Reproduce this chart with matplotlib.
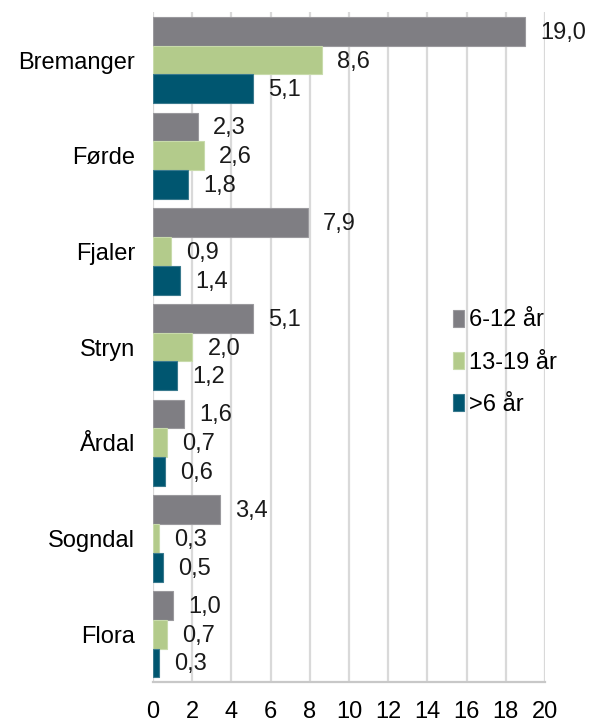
import matplotlib.pyplot as plt
import numpy as np

plt.rcParams['font.family'] = ['Liberation Sans', 'DejaVu Sans']

# Data (top to bottom)
kommuner = ['Bremanger', 'Førde', 'Fjaler', 'Stryn', 'Årdal', 'Sogndal', 'Flora']
serie_navn = ['6-12 år', '13-19 år', '>6 år']
v_6_12 = [19.0, 2.3, 7.9, 5.1, 1.6, 3.4, 1.0]
v_13_19 = [8.6, 2.6, 0.9, 2.0, 0.7, 0.3, 0.7]
v_over6 = [5.1, 1.8, 1.4, 1.2, 0.6, 0.5, 0.3]

farger = ['#7f7e83', '#b3cb8b', '#005670']
kanter = ['#9a999d', '#c8dbab', '#3a7a8e']

fs = 17
fig = plt.figure(figsize=(5.93, 7.22), dpi=100)
ax = fig.add_axes([0.258, 0.0554, 0.661, 0.9276])

n = len(kommuner)
y = np.arange(n)
h = 0.3
verdier = [v_6_12, v_13_19, v_over6]
for i, (vals, navn) in enumerate(zip(verdier, serie_navn)):
    pos = y + (i - 1) * h
    bars = ax.barh(pos, vals, height=h, color=farger[i], edgecolor=kanter[i],
                   linewidth=0.8, label=navn, zorder=3)
    for b, v in zip(bars, vals):
        ax.annotate(f'{v:.1f}'.replace('.', ','),
                    (b.get_width(), b.get_y() + b.get_height() / 2),
                    xytext=(11, -1), textcoords='offset points',
                    ha='left', va='center', fontsize=fs, color='#1a1a1a')

ax.set_ylim(n - 0.5, -0.5)
ax.set_xlim(0, 20)
ax.set_xticks(range(0, 21, 2))
ax.set_yticks(y)
ax.set_yticklabels(kommuner, fontsize=fs)
ax.tick_params(axis='x', labelsize=fs, length=0, pad=14)
ax.tick_params(axis='y', length=0, pad=13)

ax.grid(axis='x', color='#d9d9d9', linewidth=1.6, zorder=0)
ax.set_axisbelow(True)
for s in ['top', 'right', 'left']:
    ax.spines[s].set_visible(False)
ax.spines['bottom'].set_color('#c8c8c8')
ax.spines['bottom'].set_linewidth(1.6)

ax.legend(loc='center left', bbox_to_anchor=(0.71, 0.477), frameon=False,
          fontsize=fs, handlelength=0.5, handleheight=0.75, handletextpad=0.2,
          labelspacing=0.85)

plt.savefig('out.png', dpi=100)
plt.close()
